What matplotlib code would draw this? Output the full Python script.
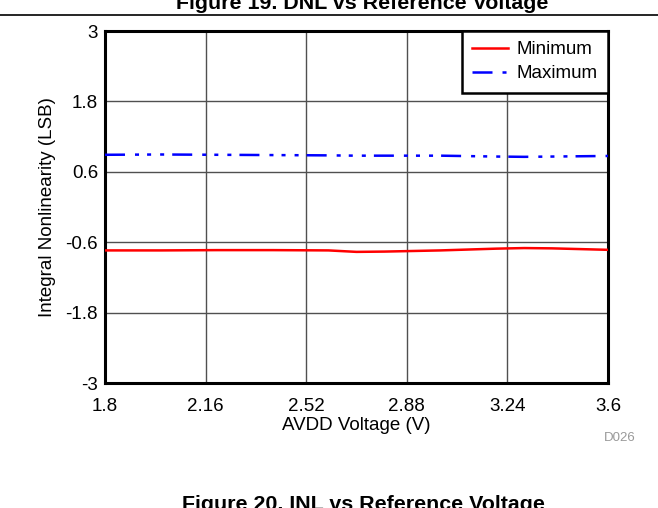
import matplotlib
matplotlib.use("Agg")
import matplotlib.pyplot as plt
from matplotlib.lines import Line2D

plt.rcParams['font.family'] = ['Liberation Sans', 'DejaVu Sans']
plt.rcParams['lines.scale_dashes'] = False

avdd = [1.8, 2.0, 2.2, 2.4, 2.6, 2.7, 2.8, 3.0, 3.2, 3.3, 3.4, 3.6]
inl_min = [-0.74, -0.74, -0.735, -0.735, -0.74, -0.765, -0.76, -0.74, -0.71, -0.70, -0.705, -0.73]
inl_max = [0.89, 0.895, 0.89, 0.885, 0.88, 0.875, 0.875, 0.875, 0.86, 0.855, 0.86, 0.87]

xticks = [1.8, 2.16, 2.52, 2.88, 3.24, 3.6]
xtick_labels = ['1.8', '2.16', '2.52', '2.88', '3.24', '3.6']
yticks = [-3, -1.8, -0.6, 0.6, 1.8, 3]
ytick_labels = ['-3', '-1.8', '-0.6', '0.6', '1.8', '3']

FS = 13.5

fig = plt.figure(figsize=(6.58, 5.08), dpi=100)
ax = fig.add_axes([105/658, 1-383/508, (608-105)/658, (383-31)/508])

ax.plot(avdd, inl_min, color='#ff0000', lw=1.8, label='Minimum', zorder=3)
ax.plot(avdd, inl_max, color='#0000ff', lw=1.8, label='Maximum', zorder=3,
        dashes=(14.4, 7.2, 2.9, 5.8, 2.9, 6.5, 2.9, 5.8))

ax.set_xlim(1.8, 3.6)
ax.set_ylim(-3, 3)
ax.set_xticks(xticks)
ax.set_xticklabels(xtick_labels)
ax.set_yticks(yticks)
ax.set_yticklabels(ytick_labels)
ax.tick_params(axis='x', length=0, labelsize=FS, pad=11)
ax.tick_params(axis='y', length=0, labelsize=FS, pad=5)
ax.grid(True, color='#505050', lw=1.0)
for s in ax.spines.values():
    s.set_linewidth(2.2)
    s.set_color('black')

ax.set_xlabel('AVDD Voltage (V)', fontsize=FS, labelpad=1)
ax.set_ylabel('Integral Nonlinearity (LSB)', fontsize=FS, labelpad=7)

leg = ax.legend(loc='upper right', fontsize=FS, frameon=True, fancybox=False,
                borderaxespad=0, handlelength=1.9, handletextpad=0.45,
                borderpad=0.55, labelspacing=0.37)
leg.get_frame().set_edgecolor('black')
leg.get_frame().set_linewidth(1.8)
leg.get_frame().set_alpha(1)

fig.text(620/658, 1-438/508, 'D026', fontsize=9.5, color='#999999', ha='center', va='center')

fig.text(362/658, 1-9/508, 'Figure 19. DNL vs Reference Voltage', fontsize=15.4,
         fontweight='bold', ha='center', va='baseline')
fig.add_artist(Line2D([0, 1], [1-15/508, 1-15/508], color='black', lw=1.2,
                      transform=fig.transFigure))
fig.text(363/658, 1-510/508, 'Figure 20. INL vs Reference Voltage', fontsize=15.4,
         fontweight='bold', ha='center', va='baseline')

fig.savefig('out.png', dpi=100)
